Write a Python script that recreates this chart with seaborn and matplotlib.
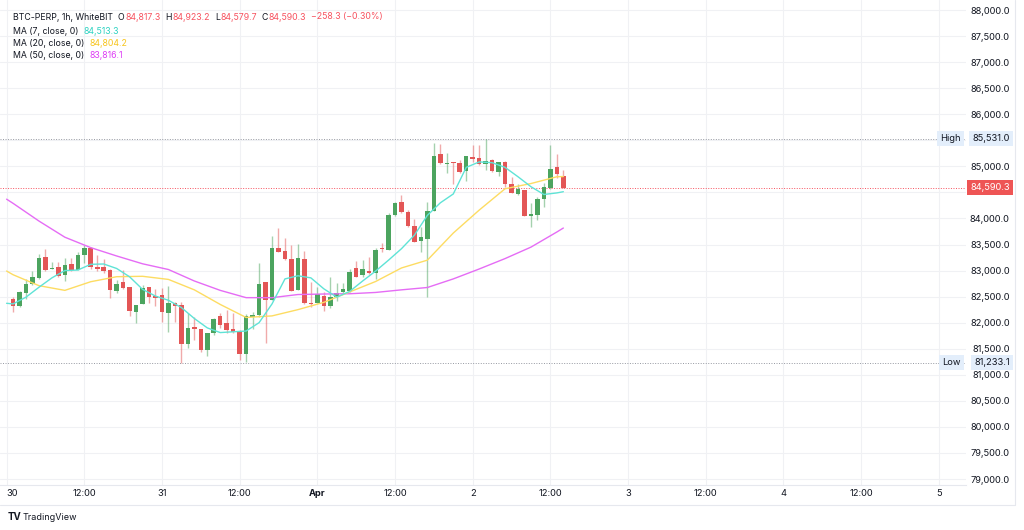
import matplotlib
matplotlib.use("Agg")
import matplotlib.pyplot as plt
import matplotlib.transforms as mtransforms
from matplotlib.lines import Line2D
from matplotlib.ticker import FuncFormatter
import numpy as np
import pandas as pd
import seaborn as sns

# BTC-PERP 1h candles, first one opens 2025-03-30 01:00
opens = [
    82454, 82320, 82575, 82735, 82850, 83266, 83036, 83062, 82908, 83126,
    83010, 83305, 83433, 83075, 83062, 83017, 82614, 82774, 82678, 82204,
    82358, 82678, 82512, 82524, 82179, 82371, 82333, 81584, 81917, 81872,
    81475, 81795, 82128, 81999, 81872, 81840, 81398, 82115, 82147, 82780,
    82435, 83433, 83375, 83215, 82627, 83222, 82377, 82384, 82512, 82326,
    82499, 82595, 82614, 83042, 82915, 82991, 82947, 83420, 83394, 84066,
    84322, 84117, 83861, 83573, 83599, 84143, 85237, 85045, 85077, 85058,
    84910, 85185, 85166, 85038, 85122, 84885, 85090, 84661, 84469, 84546,
    84047, 84066, 84367, 84578, 84981, 84817.3,
]
highs = [
    82486, 82607, 82831, 82998, 83318, 83413, 83170, 83158, 83247, 83247,
    83350, 83490, 83458, 83305, 83215, 83030, 82819, 83010, 82685, 82340,
    82716, 82690, 82640, 82659, 82710, 82397, 82397, 82192, 82115, 81880,
    81800, 82083, 82192, 82243, 82179, 81850, 82166, 82211, 83138, 82790,
    83663, 83810, 83618, 83490, 83503, 83375, 82774, 82691, 82595, 82883,
    82755, 82755, 83023, 83183, 83202, 83266, 83426, 83535, 84098, 84322,
    84450, 84162, 83983, 83842, 84322, 85441, 85429, 85262, 85090, 85122,
    85205, 85409, 85409, 85531.0, 85134, 85090, 85095, 84802, 84661, 84555,
    84290, 84418, 84686, 85409, 85237, 84923.2,
]
lows = [
    82198, 82300, 82448, 82716, 82838, 82991, 83023, 82883, 82806, 82998,
    83004, 83151, 83023, 82998, 82959, 82467, 82563, 82652, 82128, 81987,
    82350, 82384, 82320, 82019, 81827, 82019, 81233.1, 81507, 81667, 81437,
    81360, 81763, 81891, 81795, 81808, 81283, 81251, 81872, 82115, 81603,
    82430, 83356, 83202, 82610, 82620, 82358, 82294, 82380, 82224, 82275,
    82422, 82563, 82595, 82868, 82883, 82934, 82831, 83362, 83390, 84047,
    84098, 83842, 83550, 83362, 82499, 84140, 85050, 84866, 84661, 84866,
    84725, 85090, 85026, 84930, 84898, 84821, 84610, 84482, 84450, 84040,
    83842, 83970, 84226, 84570, 84770, 84579.7,
]
closes = [
    82320, 82582, 82735, 82876, 83247, 83010, 83049, 82895, 83100, 83010,
    83305, 83433, 83068, 83036, 82998, 82627, 82748, 82665, 82224, 82332,
    82665, 82499, 82479, 82198, 82371, 82320, 81584, 81904, 81872, 81469,
    81795, 82064, 81955, 81859, 81821, 81398, 82128, 82147, 82735, 82435,
    83426, 83362, 83222, 82614, 83241, 82371, 82358, 82543, 82326, 82499,
    82575, 82646, 82978, 82870, 83030, 82947, 83394, 83407, 84066, 84290,
    84117, 83861, 83554, 83637, 84143, 85198, 85058, 85064, 85058, 84898,
    85198, 85141, 85038, 85102, 84910, 85077, 84661, 84495, 84565, 84047,
    84092, 84367, 84597, 84942, 84848.6, 84590.3,
]

# moving averages, at hours since 2025-03-30 00:00
ma7_hours = [0, 1, 3, 5, 7, 9, 11, 13, 15, 17, 19, 21, 23, 25, 27, 29, 31, 33, 35, 37, 39, 41, 43,
             45, 47, 49, 51, 53, 55, 57, 59, 61, 63, 65, 67, 69, 71, 73, 75, 77, 79, 81, 83, 85, 86]
ma7_vals = [82372, 82360, 82490, 82680, 82860, 83000, 83010, 83120, 83126, 83040, 82880, 82640,
            82510, 82430, 82290, 82080, 81900, 81810, 81825, 81840, 82000, 82360, 82840, 82900,
            82860, 82650, 82490, 82600, 82800, 82990, 83200, 83420, 83680, 84060, 84300, 84470,
            84980, 85085, 85070, 84980, 84800, 84609, 84460, 84490, 84513.3]
ma_hours = [0, 1, 5, 9, 13, 17, 21, 25, 29, 33, 37, 41, 45, 49, 53, 57, 61, 65, 69, 73, 77, 81, 85, 86]
ma20_vals = [82991, 82920, 82710, 82620, 82786, 82882, 82890, 82830, 82630, 82350, 82100, 82130,
             82250, 82390, 82590, 82790, 83050, 83200, 83720, 84160, 84570, 84670, 84800, 84804.2]
ma50_vals = [84370, 84290, 83950, 83640, 83440, 83280, 83130, 83020, 82800, 82620, 82480, 82480,
             82540, 82550, 82555, 82580, 82630, 82675, 82840, 83030, 83230, 83450, 83740, 83816.1]

time_labels = ["30", "12:00", "31", "12:00", "Apr", "12:00", "2", "12:00", "3", "12:00", "4", "12:00", "5"]
price_ticks = list(range(79000, 88001, 500))
HIGH = max(highs)
LOW = min(lows)

UP = "#4CA45F"
DOWN = "#E35656"
RED_TXT = "#F7525F"
DARK = "#131722"
C_MA7 = "#5FE3D6"
C_MA20 = "#FDDC62"
C_MA50 = "#E56CF5"
FS = 6.7

sns.set_theme(style="white")
plt.rcParams["font.family"] = ["Inter", "DejaVu Sans"]

t0 = pd.Timestamp("2025-03-30 00:00")
times = pd.date_range("2025-03-30 01:00", periods=len(opens), freq="h")
df = pd.DataFrame({"time": times, "open": opens, "high": highs, "low": lows, "close": closes})
df["x"] = (df["time"] - t0) / pd.Timedelta(hours=1)
df["up"] = df["close"] >= df["open"]

fig, ax = plt.subplots(figsize=(10.24, 5.3), dpi=100)
fig.subplots_adjust(left=0.0, right=966 / 1024, top=1.0, bottom=1 - 485 / 530)

# wicks and bodies
colors = np.where(df["up"], UP, DOWN)
ax.vlines(df["x"], df["low"], df["high"], colors=colors, linewidth=1.0, alpha=0.5, zorder=2)
body_lo = df[["open", "close"]].min(axis=1)
body_h = (df["close"] - df["open"]).abs().clip(lower=18)
ax.bar(df["x"], body_h, bottom=body_lo, width=0.7, color=colors, linewidth=0, zorder=3)

# moving averages
for hrs, vals, col in [(ma_hours, ma50_vals, C_MA50), (ma_hours, ma20_vals, C_MA20), (ma7_hours, ma7_vals, C_MA7)]:
    sns.lineplot(x=hrs, y=vals, ax=ax, color=col, linewidth=1.0, zorder=4)

# high / low / last price lines
dots = (0, (1, 1.6))
ax.axhline(HIGH, color="#9598A1", linewidth=0.7, linestyle=dots, zorder=1)
ax.axhline(LOW, color="#9598A1", linewidth=0.7, linestyle=dots, zorder=1)
ax.axhline(closes[-1], color=RED_TXT, linewidth=0.7, linestyle=dots, zorder=1)

# price labels hidden under the badges
covered = {85500, 84500}

ax.set_xlim(-1.02, 148.2)
ax.set_ylim(78885, 88192)
ax.set_xticks(np.arange(0, 145, 12))
ax.set_xticklabels(time_labels)
ax.set_yticks(price_ticks)
ax.yaxis.set_major_formatter(FuncFormatter(lambda v, p: "" if round(v) in covered else f"{v:,.1f}"))
ax.yaxis.tick_right()
ax.tick_params(axis="x", length=0, labelsize=FS, colors=DARK, pad=3.2)
ax.tick_params(axis="y", length=0, labelsize=FS, colors=DARK, pad=31.5)
plt.setp(ax.get_yticklabels(), ha="right")
for lab in ax.get_xticklabels():
    if lab.get_text() == "Apr":
        lab.set_fontweight("bold")
ax.get_xticklabels()[0].set_ha("left")
ax.grid(True, color="#F0F1F4", linewidth=0.8)
for side in ["top", "left", "right"]:
    ax.spines[side].set_visible(False)
ax.spines["bottom"].set_color("#E6E8EE")
ax.spines["bottom"].set_linewidth(0.8)

# price scale badges
trans = mtransforms.blended_transform_factory(fig.transFigure, ax.transData)
badge = dict(boxstyle="square,pad=0.35", facecolor="#E3EEFB", edgecolor="none")
for price, name in [(HIGH, "High"), (LOW, "Low")]:
    ax.text(1010 / 1024, price, f"{price:,.1f}", transform=trans, ha="right", va="center", fontsize=FS,
            color=DARK, bbox=badge, clip_on=False, zorder=6)
    ax.text(961 / 1024, price, name, transform=trans, ha="right", va="center", fontsize=FS,
            color=DARK, bbox=badge, clip_on=False, zorder=6)
ax.text(1010 / 1024, closes[-1], f"{closes[-1]:,.1f}", transform=trans, ha="right", va="center",
        fontsize=FS, color="white", clip_on=False, zorder=7,
        bbox=dict(boxstyle="square,pad=0.35", facecolor="#EE5555", edgecolor="none"))

# frame lines of the price scale / time scale
fig.add_artist(Line2D([1015 / 1024, 1015 / 1024], [1 - 505 / 530, 1], transform=fig.transFigure,
                      color="#E6E8EE", linewidth=0.8))
fig.add_artist(Line2D([0, 1015 / 1024], [1 - 505 / 530, 1 - 505 / 530], transform=fig.transFigure,
                      color="#E6E8EE", linewidth=0.8))

# legend rows at top-left
renderer = fig.canvas.get_renderer()
W, H = fig.get_size_inches() * fig.dpi


def text_row(y_px, parts):
    x = 13
    for s, col, gap in parts:
        t = fig.text(x / W, 1 - y_px / H, s, color=col, fontsize=6.3, va="center", ha="left")
        bb = t.get_window_extent(renderer=renderer)
        x = bb.x1 + gap


chg = closes[-1] - closes[-2]
pct = chg / closes[-2] * 100
text_row(17, [
    ("BTC-PERP, 1h, WhiteBIT", DARK, 5), ("O", DARK, 0.5), (f"{opens[-1]:,.1f}", RED_TXT, 5),
    ("H", DARK, 0.5), (f"{highs[-1]:,.1f}", RED_TXT, 5), ("L", DARK, 0.5), (f"{lows[-1]:,.1f}", RED_TXT, 5),
    ("C", DARK, 0.5), (f"{closes[-1]:,.1f}", RED_TXT, 5),
    (f"{chg:,.1f} ({pct:.2f}%)".replace("-", "\u2212"), RED_TXT, 0),
])
text_row(31, [("MA (7, close, 0)", DARK, 5), (f"{ma7_vals[-1]:,.1f}", "#2ED3C2", 0)])
text_row(43, [("MA (20, close, 0)", DARK, 5), (f"{ma20_vals[-1]:,.1f}", "#F7C51E", 0)])
text_row(55, [("MA (50, close, 0)", DARK, 5), (f"{ma50_vals[-1]:,.1f}", "#DE3DF5", 0)])

# footer
fig.text(8 / W, 1 - 517 / H, "TV", fontsize=7, fontweight="bold", color=DARK, va="center", ha="left")
fig.text(23 / W, 1 - 517 / H, "TradingView", fontsize=6.5, color=DARK, va="center", ha="left")

fig.savefig("out.png", dpi=100)
